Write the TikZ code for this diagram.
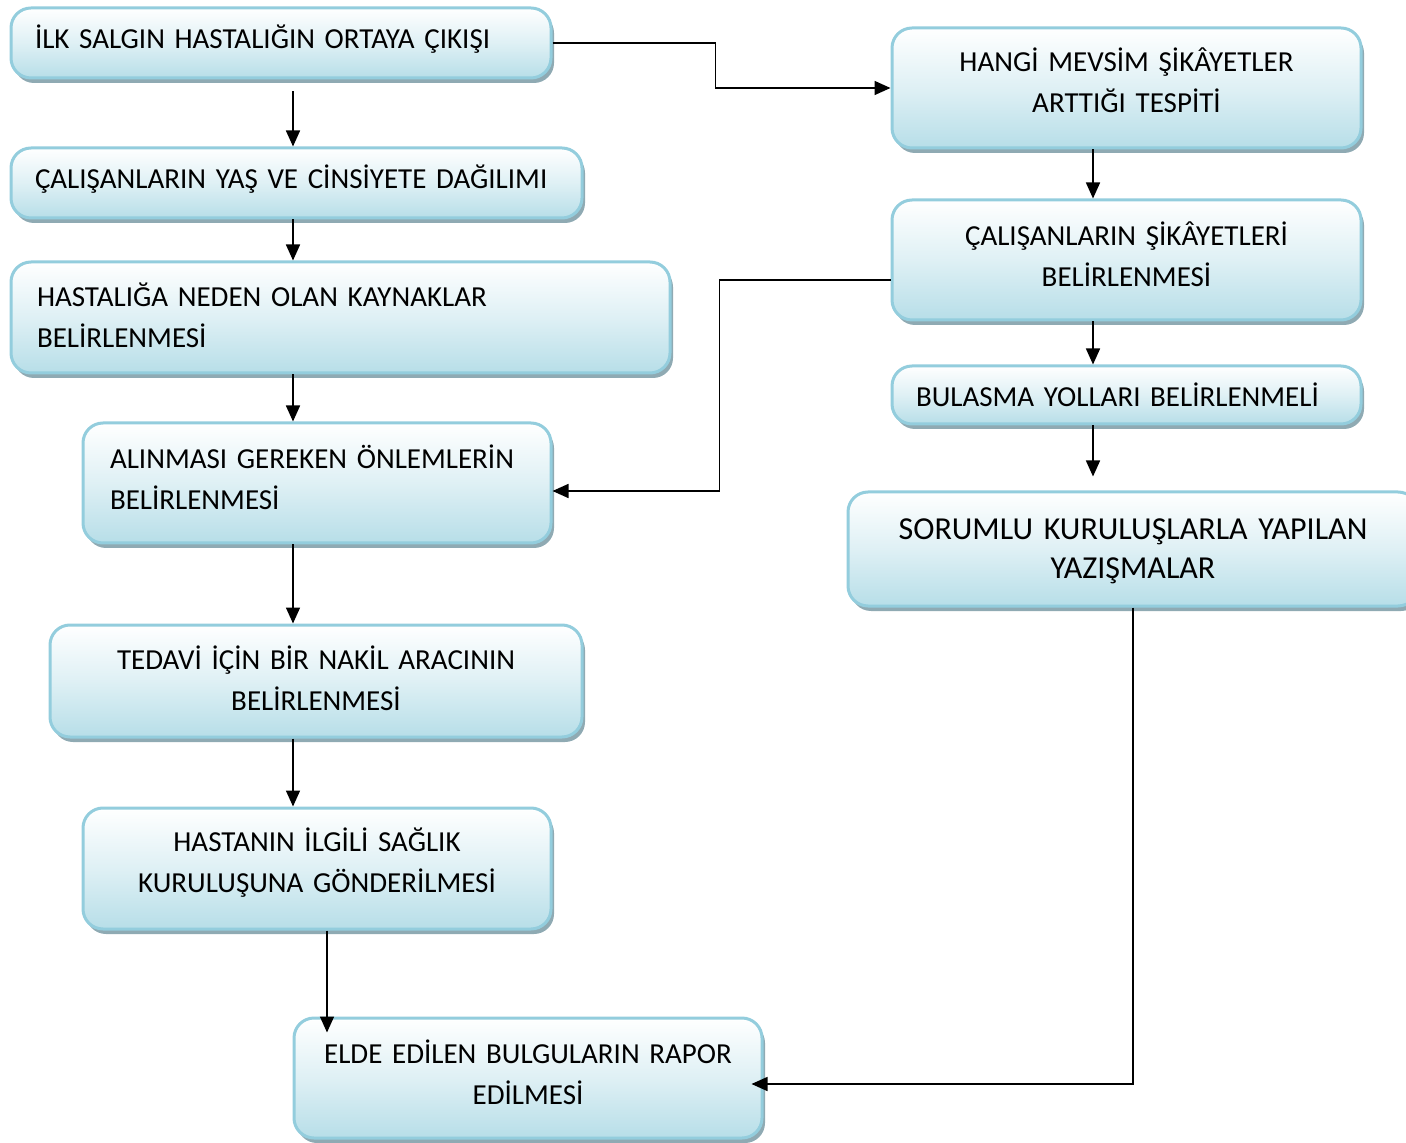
\documentclass[tikz,border=0pt]{standalone}
\usepackage{fontspec}
\setmainfont{Carlito}
\usepackage{xcolor}
\usepackage{tikz}
\usetikzlibrary{arrows.meta,shadows}

\definecolor{kutumavi}{HTML}{B7DEE8}
\definecolor{cerceve}{HTML}{93CDDD}
\definecolor{golge}{HTML}{8FAAB3}

\tikzset{
  kutu/.style={draw=cerceve, line width=1.5pt, rounded corners=10pt,
    top color=white, bottom color=kutumavi, middle color=kutumavi!45,
    drop shadow={shadow xshift=1.5pt, shadow yshift=-2.5pt, fill=golge, opacity=1},
    font=\fontsize{14.5}{20.5}\selectfont, inner ysep=0pt},
  solkutu/.style={kutu, align=left},
  ortakutu/.style={kutu, align=center, inner xsep=6pt},
  yukari/.style={execute at end node={\par\kern#1}},
  ok/.style={-{Triangle[length=8pt,width=7pt]}, line width=0.8pt}
}

\begin{document}
\begin{tikzpicture}[x=0.5pt,y=-0.5pt]
        \useasboundingbox (0,0) rectangle (1406,1143);
        % left column
        \node[solkutu, text depth=6pt, inner xsep=12pt, text width=246pt, minimum height=35pt] (b1) at (281,43) {İLK SALGIN HASTALIĞIN ORTAYA ÇIKIŞI};
        \node[solkutu, text depth=6pt, inner xsep=12pt, text width=261.5pt, minimum height=35pt] (b2) at (296.5,183) {ÇALIŞANLARIN YAŞ VE CİNSİYETE DAĞILIMI};
        \node[solkutu, yukari=2pt, inner xsep=13pt, text width=303.5pt, minimum height=55.5pt] (b3) at (340.5,317.5) {HASTALIĞA NEDEN OLAN KAYNAKLAR\\BELİRLENMESİ};
        \node[solkutu, yukari=6pt, inner xsep=13.5pt, text width=207pt, minimum height=60pt] (b4) at (317,483) {ALINMASI GEREKEN ÖNLEMLERİN\\BELİRLENMESİ};
        \node[ortakutu, yukari=3pt, text width=254pt, minimum height=56pt] (b5) at (316,681) {TEDAVİ İÇİN BİR NAKİL ARACININ\\BELİRLENMESİ};
        \node[ortakutu, yukari=6pt, text width=222pt, minimum height=60.5pt] (b6) at (317,868.5) {HASTANIN İLGİLİ SAĞLIK\\KURULUŞUNA GÖNDERİLMESİ};
        \node[ortakutu, yukari=6pt, text width=222pt, minimum height=60pt] (b7) at (528,1078) {ELDE EDİLEN BULGULARIN RAPOR\\EDİLMESİ};
        % right column
        \node[ortakutu, yukari=8pt, text width=222.5pt, minimum height=60pt] (r1) at (1126.5,88) {HANGİ MEVSİM ŞİKÂYETLER\\ARTTIĞI TESPİTİ};
        \node[ortakutu, yukari=6pt, text width=222.5pt, minimum height=60pt] (r2) at (1126.5,260) {ÇALIŞANLARIN ŞİKÂYETLERİ\\BELİRLENMESİ};
        \node[solkutu, inner xsep=12pt, text width=210.5pt, minimum height=29pt] (r3) at (1126.5,395) {BULASMA YOLLARI BELİRLENMELİ};
        \node[ortakutu, yukari=-2.5pt, font=\fontsize{16}{19.5}\selectfont, text width=273pt, minimum height=57pt] (r4) at (1133,549) {SORUMLU KURULUŞLARLA YAPILAN\\YAZIŞMALAR};
        \coordinate (sol) at (293,0);
        \coordinate (alt) at (327,0);
        \coordinate (sag) at (1093,0);
        \draw[ok, shorten <=6pt] (b1.south -| sol) -- (b2.north -| sol);
        \draw[ok] (b2.south -| sol) -- (b3.north -| sol);
        \draw[ok] (b3.south -| sol) -- (b4.north -| sol);
        \draw[ok] (b4.south -| sol) -- (b5.north -| sol);
        \draw[ok] (b5.south -| sol) -- (b6.north -| sol);
        \draw[ok, shorten >=-8pt] (b6.south -| alt) -- (b7.north -| alt);
        \draw[ok] (r1.south -| sag) -- (r2.north -| sag);
        \draw[ok] (r2.south -| sag) -- (r3.north -| sag);
        \draw[ok, shorten >=7pt] (r3.south -| sag) -- (r4.north -| sag);
        \draw[ok] (b1.east) -- ++(163,0) |- (r1.west);
        \draw[ok] ([yshift=-10pt]r2.west) -- ++(-171,0) |- ([yshift=-4pt]b4.east);
        \draw[ok, shorten >=-6pt] (r4.south) |- ([yshift=-3pt]b7.east);
    \end{tikzpicture}
\end{document}
